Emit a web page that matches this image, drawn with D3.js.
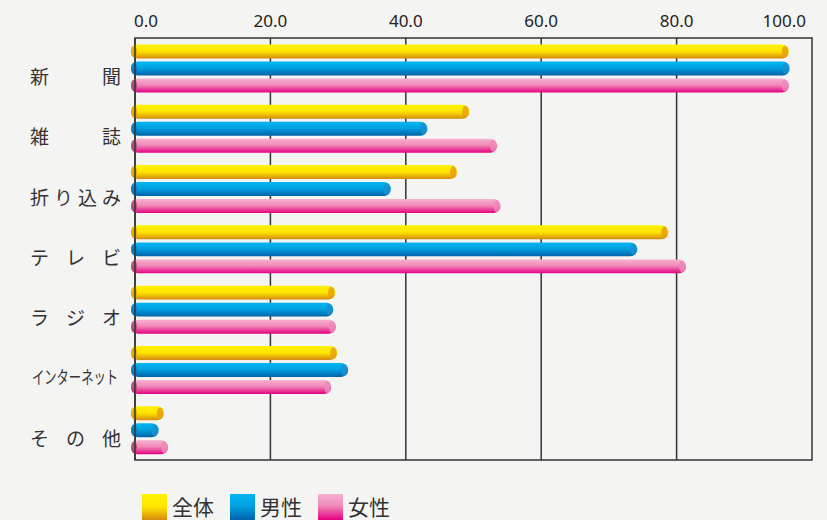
<!DOCTYPE html>
<html>
<head>
<meta charset="utf-8">
<script src="https://cdn.jsdelivr.net/npm/d3@7"></script>
<style>
  body { margin: 0; background: #f4f4f3; }
  svg { display: block; }
</style>
</head>
<body>
<div id="chart"></div>
<script>
// media reach (%)
var categories = ["新聞", "雑誌", "折り込み", "テレビ", "ラジオ", "インターネット", "その他"];
var seriesNames = ["全体", "男性", "女性"];
var allValues    = [96.6, 49.4, 47.6, 78.8, 29.6, 29.9, 4.3];
var maleValues   = [96.7, 43.2, 37.8, 74.2, 29.3, 31.5, 3.5];
var femaleValues = [96.6, 53.5, 54.0, 81.4, 29.7, 29.0, 4.9];
var tickValues = [0, 20, 40, 60, 80, 100];

var width = 827, height = 520;
var svg = d3.select("#chart").append("svg")
    .attr("width", width).attr("height", height);

var defs = svg.append("defs");
var grads = [
    {id: "gYellow", stops: [["0%", "#fff200"], ["50%", "#ffe400"], ["100%", "#d68a10"]], cap: "#e8a010", left: "#e0a000"},
    {id: "gBlue",   stops: [["0%", "#00b6f0"], ["45%", "#00a2e2"], ["100%", "#0062a8"]], cap: "#1a8fd0", left: "#0a7cc0"},
    {id: "gPink",   stops: [["0%", "#f7b0cf"], ["45%", "#f08ab9"], ["100%", "#e4007f"]], cap: "#ee88b8", left: "#a8476c"}
];
grads.forEach(function(g){
    var lg = defs.append("linearGradient").attr("id", g.id)
        .attr("x1", 0).attr("y1", 0).attr("x2", 0).attr("y2", 1);
    g.stops.forEach(function(s){
        lg.append("stop").attr("offset", s[0]).attr("stop-color", s[1]);
    });
});

var x = d3.scaleLinear().domain([0, 100]).range([135, 812]);
var y = d3.scaleBand().domain(categories).range([38, 460]);
var ySub = d3.scaleBand().domain(seriesNames).range([6.5, 54.5]).paddingInner(0.18);

var data = categories.map(function(c, i){
    return {cat: c, vals: [allValues[i], maleValues[i], femaleValues[i]]};
});

// gridlines + frame
svg.append("g").selectAll("line").data(tickValues.slice(1, -1))
    .enter().append("line")
    .attr("x1", function(d){ return x(d); }).attr("x2", function(d){ return x(d); })
    .attr("y1", 38).attr("y2", 460)
    .attr("stroke", "#333").attr("stroke-width", 1.5);
svg.append("rect")
    .attr("x", x(0)).attr("y", 38)
    .attr("width", x(100) - x(0)).attr("height", 422)
    .attr("fill", "none").attr("stroke", "#333").attr("stroke-width", 1.5);

// tick labels
svg.append("g").selectAll("text").data(tickValues)
    .enter().append("text")
    .attr("x", function(d, i){
        if (i == 0) return x(d) - 1;
        if (i == tickValues.length - 1) return x(d) - 6;
        return x(d);
    })
    .attr("y", 27)
    .attr("text-anchor", function(d, i){
        if (i == 0) return "start";
        if (i == tickValues.length - 1) return "end";
        return "middle";
    })
    .style("font-family", "'Noto Sans', sans-serif")
    .style("font-size", "17px")
    .attr("fill", "#222")
    .text(function(d){ return d3.format(".1f")(d); });

// bars
var groups = svg.append("g").selectAll("g").data(data)
    .enter().append("g")
    .attr("transform", function(d){ return "translate(0," + y(d.cat) + ")"; });

groups.each(function(d){
    var g = d3.select(this);
    d.vals.forEach(function(v, j){
        var h = ySub.bandwidth();
        var yy = ySub(seriesNames[j]);
        var gr = grads[j];
        var x0 = x(0) - 4, x1 = x(v);
        g.append("rect")
            .attr("x", x0).attr("y", yy)
            .attr("width", x1 - x0).attr("height", h)
            .attr("rx", h / 2).attr("ry", h / 2)
            .attr("fill", "url(#" + gr.id + ")");
        // left cap shading
        g.append("ellipse")
            .attr("cx", x0 + 3).attr("cy", yy + h / 2)
            .attr("rx", 3).attr("ry", h / 2 - 1)
            .attr("fill", gr.left).attr("opacity", 0.8);
        // right end face
        g.append("ellipse")
            .attr("cx", x1 - 4).attr("cy", yy + h / 2)
            .attr("rx", 3.2).attr("ry", h / 2 - 1)
            .attr("fill", gr.cap).attr("opacity", 0.85);
    });
});

// y axis line on top of the bars
svg.append("line")
    .attr("x1", x(0)).attr("x2", x(0)).attr("y1", 38).attr("y2", 460)
    .attr("stroke", "#333").attr("stroke-width", 1.5);

// category labels, spread between 30 and 121
var labelLeft = 30, labelRight = 121, fs = 19;
data.forEach(function(d){
    var base = y(d.cat) + 46;
    if (d.cat == "インターネット") {
        svg.append("text")
            .attr("x", 32).attr("y", base - 1)
            .attr("textLength", 86).attr("lengthAdjust", "spacingAndGlyphs")
            .style("font-family", "'Noto Sans CJK JP', sans-serif")
            .style("font-size", "18px")
            .attr("fill", "#333")
            .text(d.cat);
        return;
    }
    var chars = d.cat.split("");
    var step = (labelRight - labelLeft - fs) / (chars.length - 1);
    chars.forEach(function(ch, k){
        svg.append("text")
            .attr("x", labelLeft + k * step).attr("y", base)
            .style("font-family", "'Noto Sans CJK JP', sans-serif")
            .style("font-size", fs + "px")
            .attr("fill", "#333")
            .text(ch);
    });
});

// legend
var legend = svg.append("g").selectAll("g").data(seriesNames)
    .enter().append("g")
    .attr("transform", function(d, i){ return "translate(" + (142 + i * 88) + ",494)"; });
legend.append("rect")
    .attr("width", 25).attr("height", 26)
    .attr("fill", function(d, i){ return "url(#" + grads[i].id + ")"; });
legend.append("text")
    .attr("x", 30).attr("y", 21)
    .style("font-family", "'Noto Sans CJK JP', sans-serif")
    .style("font-size", "21px")
    .attr("fill", "#333")
    .text(function(d){ return d; });
</script>
</body>
</html>
